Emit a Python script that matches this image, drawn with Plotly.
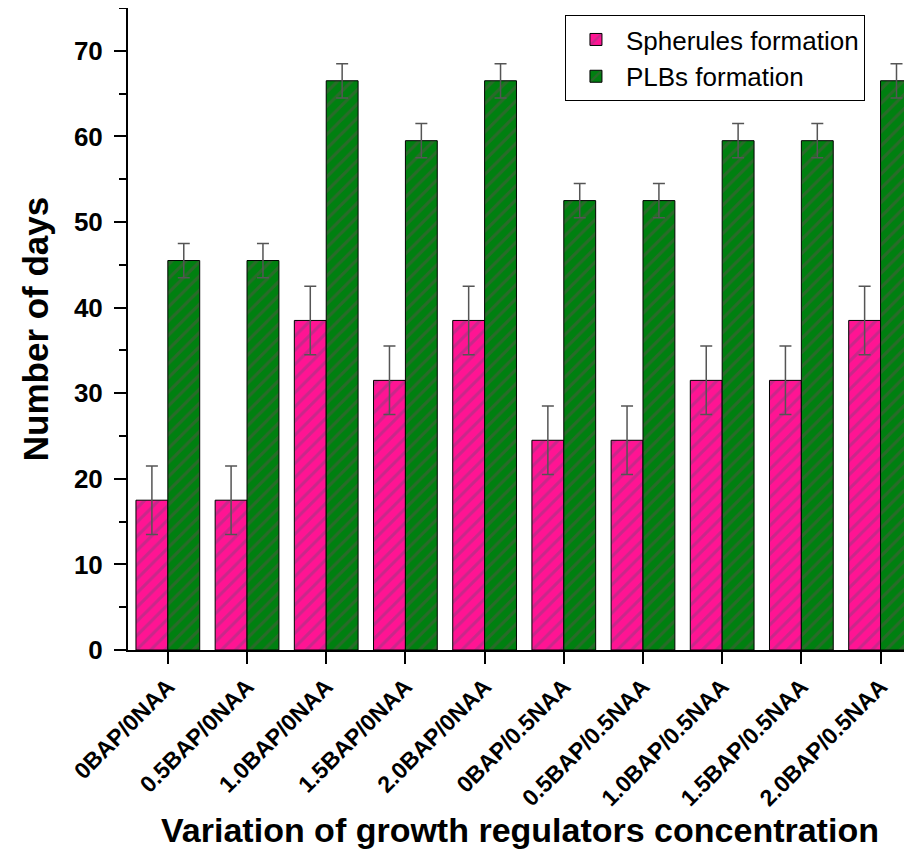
import plotly.graph_objects as go

categories = ["0BAP/0NAA", "0.5BAP/0NAA", "1.0BAP/0NAA", "1.5BAP/0NAA", "2.0BAP/0NAA",
              "0BAP/0.5NAA", "0.5BAP/0.5NAA", "1.0BAP/0.5NAA", "1.5BAP/0.5NAA", "2.0BAP/0.5NAA"]
spherules = [17.5, 17.5, 38.5, 31.5, 38.5, 24.5, 24.5, 31.5, 31.5, 38.5]
spherules_err = [4, 4, 4, 4, 4, 4, 4, 4, 4, 4]
plbs = [45.5, 45.5, 66.5, 59.5, 66.5, 52.5, 52.5, 59.5, 59.5, 66.5]
plbs_err = [2, 2, 2, 2, 2, 2, 2, 2, 2, 2]

FONT = "Arial, 'Liberation Sans', sans-serif"

fig = go.Figure()
fig.add_trace(go.Bar(
    name="Spherules formation", x=categories, y=spherules,
    marker=dict(color="#FF1493", line=dict(color="black", width=1),
                pattern=dict(shape="/", fgcolor="#C8288A", fgopacity=1, size=10, solidity=0.3)),
    error_y=dict(type="data", array=spherules_err, color="#555555", thickness=1.5, width=6),
))
fig.add_trace(go.Bar(
    name="PLBs formation", x=categories, y=plbs,
    marker=dict(color="#008010", line=dict(color="black", width=1),
                pattern=dict(shape="/", fgcolor="#2A6A2A", fgopacity=1, size=10, solidity=0.3)),
    error_y=dict(type="data", array=plbs_err, color="#555555", thickness=1.5, width=6),
))

fig.update_layout(
    width=912, height=849,
    margin=dict(l=120, r=8, t=0, b=207),
    paper_bgcolor="white", plot_bgcolor="white",
    barmode="group", bargap=0.195, bargroupgap=0,
    font=dict(family=FONT, color="black"),
    legend=dict(x=0.94, y=0.989, xanchor="right", yanchor="top",
                bordercolor="black", borderwidth=1, bgcolor="white",
                font=dict(size=26, family=FONT), itemwidth=50, tracegroupgap=0),
    showlegend=True,
)
fig.update_xaxes(
    range=[-0.503, 9.397], showline=True, linecolor="black", linewidth=2,
    ticks="outside", ticklen=12, tickwidth=2, tickcolor="black",
    tickangle=-45, tickfont=dict(size=23, family=FONT, weight="bold"),
    title=dict(text="<b>Variation of growth regulators concentration</b>",
               font=dict(size=34, family=FONT), standoff=6),
    showgrid=False, zeroline=False, automargin=False,
)
fig.update_yaxes(
    range=[0, 75], showline=True, linecolor="black", linewidth=2,
    tickvals=[0, 10, 20, 30, 40, 50, 60, 70],
    ticks="outside", ticklen=12, tickwidth=2, tickcolor="black", ticklabelstandoff=6,
    minor=dict(tickvals=[5, 15, 25, 35, 45, 55, 65, 75], ticks="outside", ticklen=7, tickwidth=2, tickcolor="black"),
    tickfont=dict(size=26, family=FONT, weight="bold"),
    title=dict(text="<b>Number of days</b>", font=dict(size=35, family=FONT)),
    showgrid=False, zeroline=False, automargin=False,
)

fig.write_html("out.html")
